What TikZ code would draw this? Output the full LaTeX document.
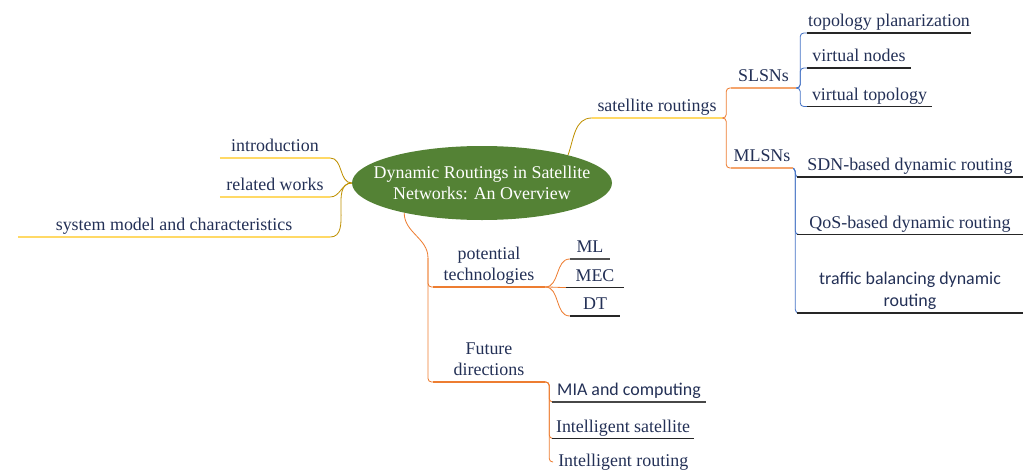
\documentclass[tikz,border=0pt]{standalone}
\usepackage{fontspec}
\setmainfont{Liberation Serif}
\newfontfamily\calfont{Carlito}
\usetikzlibrary{shapes.geometric}

\definecolor{ink}{HTML}{233056}
\definecolor{leafgreen}{HTML}{548235}
\definecolor{goldline}{HTML}{BF9000}
\definecolor{goldlight}{HTML}{FFD966}
\definecolor{orangeline}{HTML}{ED7D31}
\definecolor{orangelight}{HTML}{F4A46C}
\definecolor{blueline}{HTML}{4472C4}
\definecolor{leafline}{HTML}{262626}

\tikzset{
  topic/.style={text=ink, font=\rmfamily\fontsize{15.3}{18}\selectfont, inner xsep=0pt, inner ysep=1.5pt,
    text depth=3.5pt, align=center, anchor=south},
  sans/.style={font=\calfont\fontsize{15.3}{19}\selectfont},
  len/.style={minimum width=#1*0.03cm},
  link/.style={line width=0.7pt},
  fork/.style={link, rounded corners=3pt},
}

\begin{document}
\begin{tikzpicture}[x=0.03cm, y=-0.03cm]
  \useasboundingbox (0,0) rectangle (1027,473);

  % root
  \node[ellipse, fill=leafgreen, text=white, minimum width=260*0.03cm, minimum height=74*0.03cm,
    inner xsep=-40pt, inner ysep=0pt, align=center, font=\rmfamily\fontsize{15.3}{18}\selectfont]
    (centre) at (482,183) {Dynamic Routings in Satellite\\Networks: An Overview};

  % left side
  \node[topic, len=110] (intro) at (275,158) {introduction};
  \node[topic, len=110] (related) at (275,197) {related works};
  \node[topic, len=312] (sysmodel) at (174,237) {system model and characteristics};

  % satellite routings
  \node[topic, len=130] (satrout) at (657,118) {satellite routings};
  \node[topic, len=65] (slsn) at (763.5,88) {SLSNs};
  \node[topic, len=62] (mlsn) at (762,168) {MLSNs};
  \node[topic, len=164] (topo) at (889,33) {topology planarization};
  \node[topic, len=104] (vnodes) at (859,68) {virtual nodes};
  \node[topic, len=125] (vtopo) at (869.5,106.5) {virtual topology};
  \node[topic, len=226] (sdn) at (910,177) {SDN-based dynamic routing};
  \node[topic, len=226] (qos) at (910,234.5) {QoS-based dynamic routing};
  \node[topic, sans, len=226] (traffic) at (910,313) {traffic balancing dynamic\\routing};

  % technologies and directions
  \coordinate (split) at (428,258);
  \node[topic, len=112] (ptech) at (489,287) {potential\\technologies};
  \node[topic, len=40] (ml) at (590,259) {ML};
  \node[topic, len=58] (mec) at (595,287.5) {MEC};
  \node[topic, len=50] (dt) at (595,316) {DT};
  \node[topic, len=112] (future) at (489,382) {Future\\directions};
  \node[topic, sans, len=154] (mia) at (629,402) {MIA and computing};
  \node[topic, len=142] (isat) at (623,438.5) {Intelligent satellite};
  \node[topic, len=140, anchor=west] (irout) at (553,462) {Intelligent routing};

  % connectors
  \foreach \n in {intro,related,sysmodel}
    \draw[link, goldline] (\n.south east) to[out=0,in=180] (centre.west);
  \draw[link, goldline] (centre.18) to[out=70,in=180] (satrout.south west);
  \foreach \n in {slsn,mlsn}
    \draw[fork, orangeline] (satrout.south east) -- ++(4,0) |- (\n.south west);
  \foreach \n in {topo,vnodes,vtopo}
    \draw[fork, blueline] (slsn.south east) -- ++(4,0) |- (\n.south west);
  \foreach \n in {sdn,qos,traffic}
    \draw[fork, blueline] (mlsn.south east) -- ++(2,0) |- (\n.south west);
  \draw[link, orangeline] (centre.201) to[out=-90,in=90] (split);
  \foreach \n in {ptech,future}
    \draw[fork, orangeline] (split) |- (\n.south west);
  \foreach \n in {ml,mec,dt}
    \draw[link, orangeline] (ptech.south east) to[out=0,in=180] (\n.south west);
  \foreach \n in {mia,isat}
    \draw[fork, orangeline] (future.south east) -- ++(4,0) |- (\n.south west);
  \draw[fork, orangeline] (future.south east) -- ++(4,0) |- (irout.west);

  % underlines
  \foreach \n/\c in {intro/goldlight, related/goldlight, sysmodel/goldlight, satrout/goldlight,
      slsn/orangelight, mlsn/orangelight, ptech/orangeline, future/orangeline,
      topo/leafline, vnodes/leafline, vtopo/leafline, sdn/leafline, qos/leafline, traffic/leafline,
      ml/leafline!80, mec/leafline, dt/leafline, mia/leafline!85, isat/leafline}
    \draw[line width=0.9pt, \c] (\n.south west) -- (\n.south east);
\end{tikzpicture}
\end{document}
